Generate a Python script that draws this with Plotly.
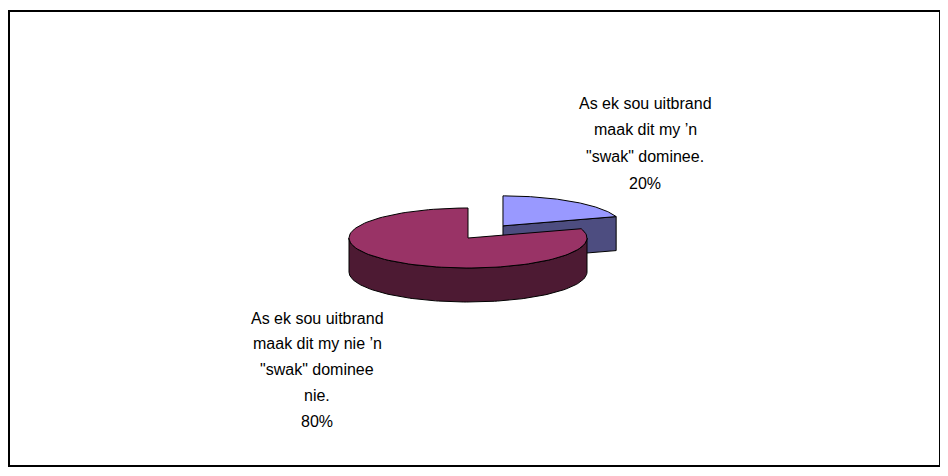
import numpy as np
import plotly.graph_objects as go

# ---- data ----
categories = [
    "As ek sou uitbrand maak dit my ’n \"swak\" dominee.",
    "As ek sou uitbrand maak dit my nie ’n \"swak\" dominee nie.",
]
label_lines = [
    ["As ek sou uitbrand", "maak dit my ’n", "\"swak\" dominee.", "20%"],
    ["As ek sou uitbrand", "maak dit my nie ’n", "\"swak\" dominee", "nie.", "80%"],
]
values = [20, 80]

# ---- styles / geometry ----
top_colors = ["#9999FF", "#993366"]
side_colors = ["#4D4D80", "#4D1A33"]
W, H = 948, 476
OFF = 8                 # page body margin
CX, CY = 468, 238       # pie centre (px)
RX, RY = 119, 30        # ellipse radii
DEPTH = 34
EXPLODE = [0.5, 0.0]
label_pos = [(645, 103), (317, 318)]
line_gap = [26.7, 25.8]
FONT = "Liberation Sans, Arial, sans-serif"

total = float(sum(values))
fracs = [v / total for v in values]
starts = np.cumsum([0] + fracs[:-1]) * 360.0
ends = starts + np.array(fracs) * 360.0


def pt(cx, cy, th, dz=0.0):
    r = np.radians(th)
    return cx + RX * np.sin(r), cy - RY * np.cos(r) + dz


def arc(cx, cy, a0, a1, dz=0.0, n=120):
    th = np.linspace(a0, a1, n)
    r = np.radians(th)
    return list(cx + RX * np.sin(r)), list(cy - RY * np.cos(r) + dz)


fig = go.Figure()

centres = []
for i in range(len(values)):
    mid = (starts[i] + ends[i]) / 2
    mr = np.radians(mid)
    cx = CX + EXPLODE[i] * RX * np.sin(mr)
    cy = CY - EXPLODE[i] * RY * np.cos(mr)
    centres.append((cx, cy))


def poly(xs, ys, fill):
    fig.add_trace(go.Scatter(
        x=xs + [xs[0]], y=ys + [ys[0]], mode="lines", fill="toself",
        fillcolor=fill, line=dict(color="#000000", width=1),
        hoverinfo="skip", showlegend=False))


# draw back (exploded) slice first, then front slice
for i in [0, 1]:
    cx, cy = centres[i]
    a0, a1 = starts[i], ends[i]
    # outer side (front half: 90..270)
    s0, s1 = max(a0, 90), min(a1, 270)
    if s1 > s0:
        tx, ty = arc(cx, cy, s0, s1)
        bx, by = arc(cx, cy, s1, s0, DEPTH)
        poly(tx + bx, ty + by, side_colors[i])
    # cut face at end angle if it faces the viewer
    if 0 < a1 < 180:
        ex, ey = pt(cx, cy, a1)
        poly([cx, ex, ex, cx], [cy, ey, ey + DEPTH, cy + DEPTH], side_colors[i])
    # cut face at start angle if it faces the viewer
    if 180 < a0 < 360:
        sx, sy = pt(cx, cy, a0)
        poly([cx, sx, sx, cx], [cy, sy, sy + DEPTH, cy + DEPTH], side_colors[i])
    # top face
    tx, ty = arc(cx, cy, a0, a1)
    poly([cx] + tx, [cy] + ty, top_colors[i])

annotations = []
for i, lines in enumerate(label_lines):
    lx, ly = label_pos[i]
    for j, t in enumerate(lines):
        annotations.append(dict(
            x=lx, y=ly + j * line_gap[i], xref="x", yref="y", text=t,
            showarrow=False, xanchor="center", yanchor="middle",
            font=dict(family=FONT, size=16, color="#000000")))

fig.update_layout(
    width=W - OFF, height=H - OFF,
    margin=dict(l=0, r=0, t=0, b=0),
    paper_bgcolor="#FFFFFF", plot_bgcolor="#FFFFFF",
    xaxis=dict(range=[OFF, W], visible=False, fixedrange=True),
    yaxis=dict(range=[H, OFF], visible=False, fixedrange=True),
    annotations=annotations,
    shapes=[dict(type="rect", xref="x", yref="y", x0=9, y0=11, x1=940, y1=466,
                 line=dict(color="#000000", width=2), fillcolor="rgba(0,0,0,0)")],
    showlegend=False,
)

fig.write_html("out.html")
